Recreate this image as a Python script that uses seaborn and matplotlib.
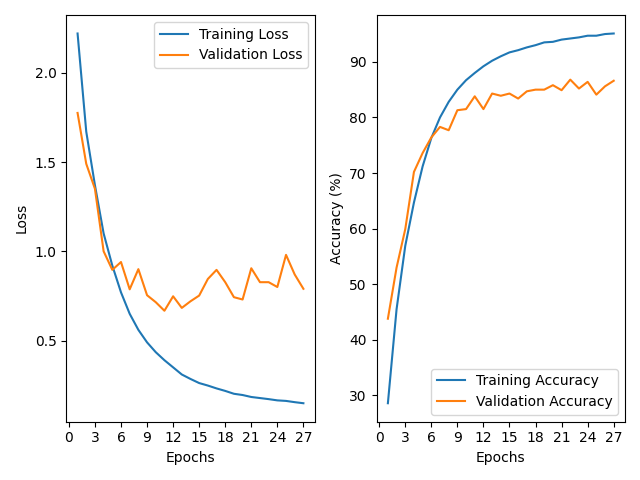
import numpy as np
import pandas as pd
import matplotlib
matplotlib.use("Agg")
import matplotlib.pyplot as plt
import seaborn as sns

epochs = list(range(1, 28))
train_loss = [2.22, 1.67, 1.37, 1.10, 0.92, 0.77, 0.65, 0.56, 0.49, 0.435, 0.39, 0.35,
              0.31, 0.285, 0.262, 0.248, 0.232, 0.218, 0.202, 0.195, 0.184, 0.178, 0.172,
              0.165, 0.162, 0.155, 0.149]
val_loss = [1.775, 1.49, 1.35, 1.00, 0.896, 0.94, 0.787, 0.90, 0.754, 0.715, 0.667, 0.748,
            0.683, 0.72, 0.752, 0.845, 0.896, 0.827, 0.743, 0.73, 0.905, 0.827, 0.827,
            0.80, 0.98, 0.87, 0.79]
train_acc = [28.6, 45.5, 56.9, 64.7, 71.2, 76.3, 80.0, 82.8, 85.0, 86.7, 88.0, 89.2,
             90.2, 91.0, 91.7, 92.1, 92.6, 93.0, 93.5, 93.6, 94.0, 94.2, 94.4, 94.7,
             94.7, 95.0, 95.1]
val_acc = [43.8, 53.0, 59.9, 70.2, 73.6, 76.4, 78.3, 77.7, 81.3, 81.5, 83.8, 81.5,
           84.3, 83.9, 84.3, 83.4, 84.7, 85.0, 85.0, 85.8, 84.9, 86.8, 85.2, 86.4,
           84.1, 85.6, 86.6]

loss_df = pd.DataFrame({"Epochs": epochs * 2,
                        "value": train_loss + val_loss,
                        "series": ["Training Loss"] * 27 + ["Validation Loss"] * 27})
acc_df = pd.DataFrame({"Epochs": epochs * 2,
                       "value": train_acc + val_acc,
                       "series": ["Training Accuracy"] * 27 + ["Validation Accuracy"] * 27})

fig, (ax1, ax2) = plt.subplots(1, 2, figsize=(6.4, 4.8), dpi=100)
pal = ["#1f77b4", "#ff7f0e"]

sns.lineplot(data=loss_df, x="Epochs", y="value", hue="series", palette=pal, ax=ax1)
ax1.set_xlabel("Epochs")
ax1.set_ylabel("Loss")
ax1.set_xticks(range(0, 28, 3))
ax1.legend(loc="upper right")

sns.lineplot(data=acc_df, x="Epochs", y="value", hue="series", palette=pal, ax=ax2)
ax2.set_xlabel("Epochs")
ax2.set_ylabel("Accuracy (%)")
ax2.set_xticks(range(0, 28, 3))
ax2.legend(loc="lower right")

plt.tight_layout()
plt.savefig("out.png", dpi=100)
